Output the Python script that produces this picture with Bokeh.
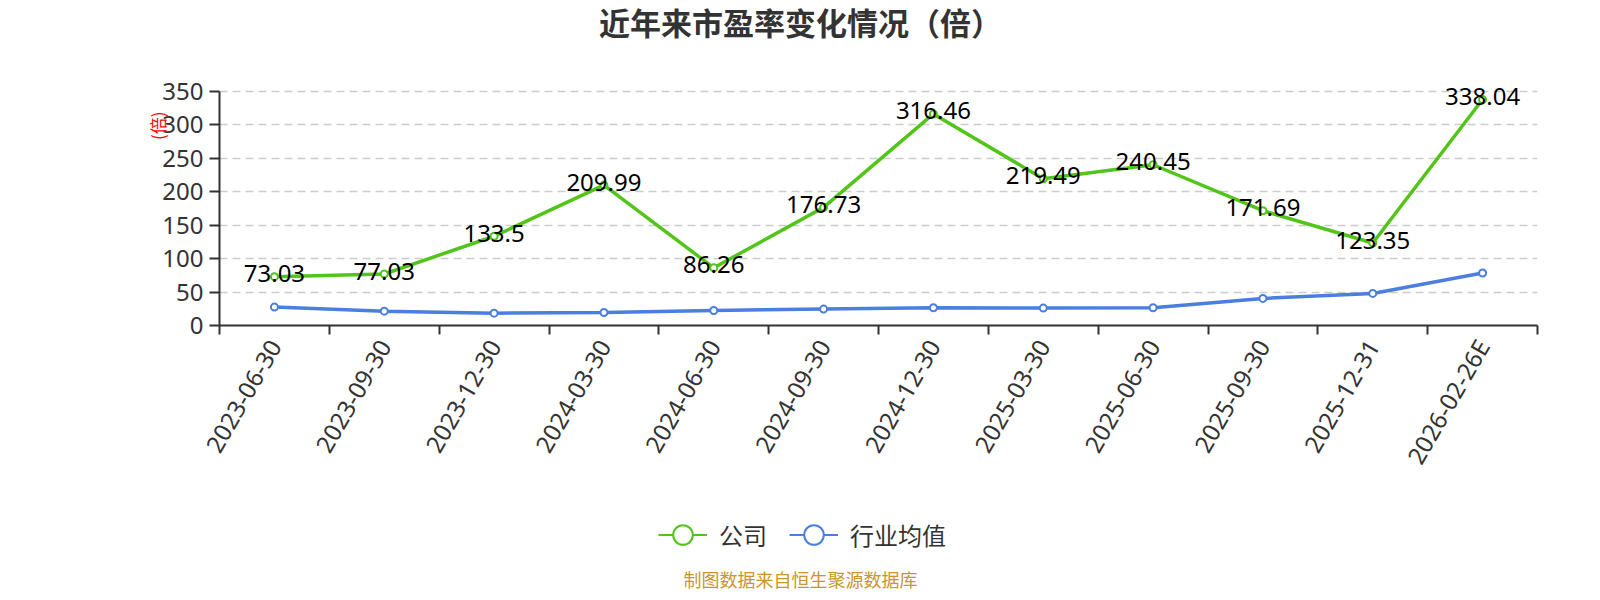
from math import pi

from bokeh.core.properties import value
from bokeh.embed import file_html
from bokeh.layouts import column
from bokeh.models import FixedTicker, Label, Legend, LegendItem, Range1d, Title
from bokeh.plotting import figure
from bokeh.resources import INLINE

# data
dates = [
    "2023-06-30", "2023-09-30", "2023-12-30", "2024-03-30",
    "2024-06-30", "2024-09-30", "2024-12-30", "2025-03-30",
    "2025-06-30", "2025-09-30", "2025-12-31", "2026-02-26E",
]
company = [73.03, 77.03, 133.5, 209.99, 86.26, 176.73, 316.46, 219.49, 240.45, 171.69, 123.35, 338.04]
industry = [27.5, 21.5, 18.5, 19.5, 22.5, 24.5, 26.5, 26.0, 26.5, 40.5, 48.0, 78.5]
y_ticks = [0, 50, 100, 150, 200, 250, 300, 350]

GREEN = "#52c41a"
BLUE = "#4a7ee0"
DARK = "#333333"
W = 1584
LEFT, RIGHT = 219, 47  # plot frame borders, shared by all strips


def strip(height):
    # a strip whose x data units are page pixels, frame aligned with the chart
    f = figure(width=W, height=height, x_range=Range1d(LEFT, W - RIGHT),
               y_range=Range1d(0, height), output_backend="svg",
               toolbar_location=None, min_border_left=LEFT,
               min_border_right=RIGHT, min_border_top=0, min_border_bottom=0)
    f.axis.visible = False
    f.grid.visible = False
    f.outline_line_color = None
    return f


# header with the title
head = strip(48)
head.add_layout(Label(x=800, y=27, text="近年来市盈率变化情况（倍）", text_align="center",
                      text_baseline="middle", text_font="Noto Sans CJK SC",
                      text_font_size="31px", text_font_style="bold", text_color=DARK))

# category i sits in the middle of band [i, i+1]
xs = [i + 0.5 for i in range(len(dates))]

p = figure(
    width=W,
    height=452,
    x_range=Range1d(0, len(dates)),
    y_range=Range1d(0, 362),  # a little headroom so the top value label is not clipped
    output_backend="svg",
    toolbar_location=None,
    title=None,
    min_border_left=LEFT,
    min_border_right=RIGHT,
    min_border_top=35,
    min_border_bottom=175,
)
p.outline_line_color = None

# x axis: labels at band centres, ticks at band edges
p.xgrid.visible = False
p.xaxis.ticker = FixedTicker(ticks=xs, minor_ticks=list(range(len(dates) + 1)))
p.xaxis.major_label_overrides = {x: d for x, d in zip(xs, dates)}
p.xaxis.major_tick_line_color = None
p.xaxis.minor_tick_in = 0
p.xaxis.minor_tick_out = 9
p.xaxis.minor_tick_line_width = 2
p.xaxis.minor_tick_line_color = DARK
p.xaxis.axis_line_width = 2
p.xaxis.axis_line_color = DARK
p.xaxis.major_label_orientation = pi / 3
p.xaxis.major_label_standoff = 7
p.xaxis.major_label_text_font = "Noto Sans"
p.xaxis.major_label_text_font_size = "24px"
p.xaxis.major_label_text_color = DARK

# y axis, drawn only up to 350
p.yaxis.ticker = FixedTicker(ticks=y_ticks)
p.yaxis.bounds = (0, 350)
p.yaxis.minor_tick_line_color = None
p.yaxis.major_tick_in = 0
p.yaxis.major_tick_out = 10
p.yaxis.major_tick_line_width = 2
p.yaxis.major_tick_line_color = DARK
p.yaxis.axis_line_width = 2
p.yaxis.axis_line_color = DARK
p.yaxis.major_label_standoff = 6
p.yaxis.major_label_text_font = "Noto Sans"
p.yaxis.major_label_text_font_size = "24px"
p.yaxis.major_label_text_color = DARK

p.ygrid.grid_line_color = "#cccccc"
p.ygrid.grid_line_dash = "8 5"
p.ygrid.grid_line_width = 1.5

# axis name, vertical at the top of the y axis
p.add_layout(Title(text="(倍)", align="right", offset=28, standoff=-21,
                   text_font="Noto Sans CJK SC", text_font_size="17px",
                   text_font_style="normal", text_color="#ff0000"), "left")

# series
p.line(xs, company, line_color=GREEN, line_width=3.5)
p.scatter(xs, company, size=7, marker="circle", fill_color="white",
          line_color=GREEN, line_width=2)
p.line(xs, industry, line_color=BLUE, line_width=3.5)
p.scatter(xs, industry, size=7, marker="circle", fill_color="white",
          line_color=BLUE, line_width=2)

p.text(xs, company, text=[str(v) for v in company], text_align="center",
       text_baseline="middle", y_offset=-3, text_color="black",
       text_font=value("Noto Sans"), text_font_size="24px")

# legend and source note; the legend's series sit left of this strip's frame
foot = strip(92)
items = []
for name, vals, color in [("公司", company, GREEN), ("行业均值", industry, BLUE)]:
    ln = foot.line(xs, vals, line_color=color, line_width=2)
    dot = foot.scatter(xs, vals, marker="circle", fill_color="white",
                       line_color=color, line_width=2)
    items.append(LegendItem(label=name, renderers=[ln, dot]))

legend = Legend(
    items=items,
    orientation="horizontal",
    location=(658 - LEFT, 30),
    glyph_width=49,
    glyph_height=55,
    label_standoff=12,
    spacing=22,
    padding=0,
    margin=0,
    border_line_color=None,
    background_fill_alpha=0,
    label_text_font="Noto Sans CJK SC",
    label_text_font_size="24px",
    label_text_color=DARK,
)
foot.add_layout(legend, "center")
foot.add_layout(Label(x=800, y=14, text="制图数据来自恒生聚源数据库", text_align="center",
                      text_baseline="middle", text_font="Noto Sans CJK SC",
                      text_font_size="18px", text_color="#c8962a"))

layout = column(head, p, foot, spacing=0)
open("out.html", "w").write(file_html(layout, INLINE))
